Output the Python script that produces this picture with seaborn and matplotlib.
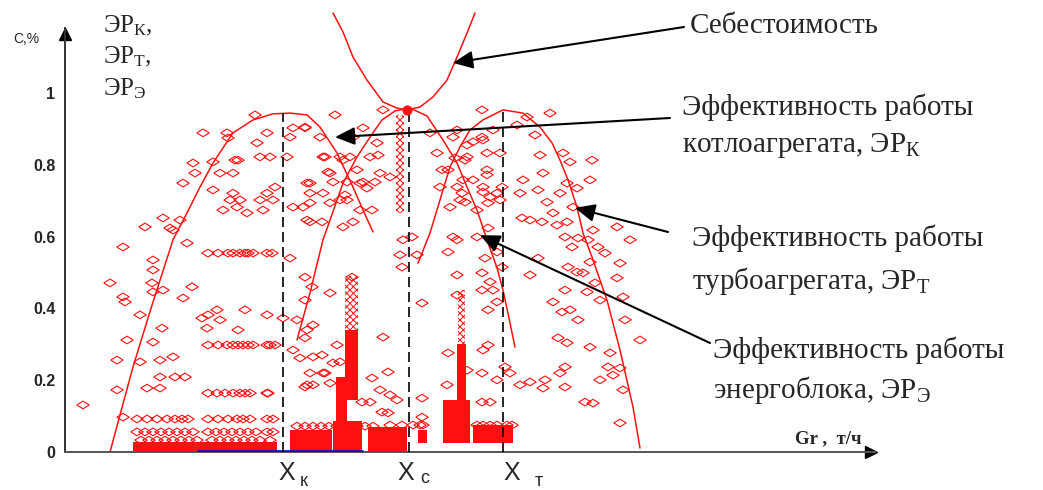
import matplotlib
matplotlib.use('Agg')
import matplotlib.pyplot as plt
from matplotlib.markers import MarkerStyle
import seaborn as sns

# Gr in t/h, efficiency / cost in relative units
erk_x = [45, 68, 87, 108, 122, 135, 148, 168, 188, 208, 225, 242, 255, 272, 288, 298, 308]
erk_y = [0, 0.237, 0.409, 0.591, 0.666, 0.738, 0.805, 0.889, 0.925, 0.942, 0.944, 0.939,
         0.905, 0.833, 0.738, 0.674, 0.613]

cost_x = [268, 278, 288, 302, 318, 332, 342, 355, 368, 382, 392, 402, 410]
cost_y = [1.223, 1.170, 1.100, 1.036, 0.975, 0.958, 0.953, 0.961, 0.989, 1.036, 1.100, 1.167, 1.223]

ere_x = [232, 245, 258, 265, 278, 292, 305, 317, 330, 345, 362, 378, 392, 402, 412, 422, 432, 438, 444, 450]
ere_y = [0.312, 0.443, 0.591, 0.646, 0.749, 0.822, 0.877, 0.925, 0.950, 0.958, 0.936, 0.869, 0.805,
         0.738, 0.674, 0.591, 0.513, 0.451, 0.373, 0.292]

ert_x = [353, 365, 375, 385, 395, 405, 418, 438, 458, 475, 487, 495, 503, 512, 518, 527, 535, 542,
         555, 568, 575]
ert_y = [0.526, 0.610, 0.702, 0.794, 0.850, 0.897, 0.925, 0.953, 0.944, 0.905, 0.861, 0.813, 0.758,
         0.682, 0.610, 0.543, 0.479, 0.423, 0.284, 0.125, 0.011]

cost_min_x = [342]
cost_min_y = [0.953]

# optimum loads X_k, X_c, X_t
opt_x = [218, 344, 438]
opt_top = [0.944, 0.953, 0.953]

# measured points, boiler zone
boiler_x = [190, 138, 162, 163, 192, 202, 228, 240, 225, 255, 270, 128, 148, 170, 173, 195, 205, 222,
            260, 278, 130, 155, 168, 265, 118, 148, 168, 175, 165, 195, 202, 210, 208, 245, 245, 258,
            268, 265, 228, 238, 158, 172, 198, 182, 245, 257, 278, 98, 115, 108, 80, 105, 58, 122, 275,
            88, 88, 225, 45, 87, 88, 58, 60, 98, 118, 127, 75, 97, 62, 88, 52, 75, 95, 108, 18, 52, 58,
            82, 95, 95, 110, 120, 137, 143, 152, 142, 155, 173, 180, 202, 218, 232]
boiler_y = [0.939, 0.889, 0.889, 0.875, 0.861, 0.889, 0.903, 0.903, 0.877, 0.877, 0.939, 0.805, 0.808,
            0.813, 0.813, 0.822, 0.822, 0.822, 0.822, 0.813, 0.777, 0.777, 0.777, 0.777, 0.749, 0.730,
            0.721, 0.702, 0.702, 0.702, 0.721, 0.738, 0.702, 0.749, 0.721, 0.721, 0.752, 0.694, 0.682,
            0.682, 0.674, 0.682, 0.674, 0.666, 0.641, 0.641, 0.627, 0.652, 0.646, 0.618, 0.627, 0.624,
            0.571, 0.582, 0.702, 0.535, 0.507, 0.540, 0.471, 0.471, 0.446, 0.432, 0.418, 0.451, 0.429,
            0.460, 0.382, 0.345, 0.312, 0.306, 0.256, 0.251, 0.256, 0.265, 0.131, 0.173, 0.097, 0.178,
            0.178, 0.209, 0.209, 0.209, 0.373, 0.382, 0.396, 0.345, 0.368, 0.340, 0.396, 0.382, 0.373,
            0.368]

# measured points, power unit zone
unit_x = [242, 248, 228, 235, 248, 257, 268, 245, 242, 248, 258, 265, 275, 272, 265, 247, 240, 240,
          318, 240, 298, 288, 312, 258, 275, 305, 242, 282, 295, 315, 325, 245, 282, 295, 307, 242,
          288, 263, 292, 298, 310, 280, 302, 313, 285, 338, 347, 335, 352, 337, 287, 318, 315, 323,
          325, 332, 357, 357, 297, 305, 317, 323, 240, 240, 260, 357, 307]
unit_y = [0.340, 0.354, 0.284, 0.262, 0.265, 0.270, 0.248, 0.220, 0.187, 0.187, 0.220, 0.192, 0.251,
          0.298, 0.443, 0.460, 0.487, 0.423, 0.953, 0.905, 0.903, 0.877, 0.861, 0.822, 0.822, 0.822,
          0.749, 0.752, 0.749, 0.777, 0.766, 0.694, 0.702, 0.674, 0.674, 0.646, 0.641, 0.780, 0.786,
          0.752, 0.752, 0.716, 0.735, 0.827, 0.822, 0.591, 0.599, 0.549, 0.549, 0.515, 0.487, 0.320,
          0.173, 0.223, 0.159, 0.145, 0.150, 0.097, 0.139, 0.139, 0.111, 0.109, 0.318, 0.181, 0.220,
          0.415, 0.206]

# measured points, turbine zone
turb_x = [365, 392, 388, 417, 428, 417, 452, 470, 485, 462, 372, 402, 422, 435, 475, 498, 527, 505,
          418, 377, 383, 390, 400, 402, 408, 375, 398, 418, 422, 437, 458, 478, 502, 525, 392, 397,
          408, 422, 418, 432, 385, 395, 400, 412, 423, 435, 425, 455, 473, 482, 495, 512, 465, 488,
          502, 552, 565, 528, 508, 457, 477, 492, 500, 513, 523, 507, 533, 540, 473, 555, 525, 503,
          518, 530, 465, 552, 500, 522, 558, 425, 420, 388, 383, 392, 412, 423, 432, 437, 392, 417,
          417, 428, 432, 423, 512, 488, 497, 505, 513, 535, 560, 575, 493, 502, 525, 545, 555, 543,
          548, 558, 535, 520, 528, 555, 423, 418, 417, 440, 445, 432, 455, 465, 480, 478, 495, 500,
          500, 417, 425, 382, 383, 392, 402]
turb_y = [0.889, 0.897, 0.877, 0.953, 0.897, 0.877, 0.911, 0.883, 0.944, 0.933, 0.833, 0.822, 0.833,
          0.833, 0.827, 0.833, 0.813, 0.808, 0.869, 0.786, 0.786, 0.819, 0.813, 0.855, 0.864, 0.738,
          0.758, 0.738, 0.786, 0.738, 0.758, 0.777, 0.749, 0.758, 0.738, 0.721, 0.758, 0.772, 0.724,
          0.721, 0.682, 0.702, 0.696, 0.674, 0.694, 0.702, 0.710, 0.721, 0.730, 0.696, 0.721, 0.735,
          0.646, 0.666, 0.641, 0.627, 0.591, 0.618, 0.682, 0.652, 0.641, 0.632, 0.599, 0.596, 0.591,
          0.571, 0.571, 0.554, 0.540, 0.526, 0.529, 0.515, 0.499, 0.471, 0.493, 0.485, 0.451, 0.446,
          0.432, 0.474, 0.540, 0.599, 0.557, 0.591, 0.599, 0.624, 0.557, 0.515, 0.493, 0.499, 0.451,
          0.451, 0.418, 0.396, 0.501, 0.418, 0.390, 0.396, 0.368, 0.423, 0.368, 0.312, 0.318, 0.304,
          0.292, 0.276, 0.234, 0.237, 0.214, 0.173, 0.201, 0.139, 0.136, 0.081, 0.298, 0.284, 0.220,
          0.237, 0.220, 0.201, 0.187, 0.195, 0.201, 0.178, 0.220, 0.237, 0.181, 0.139, 0.139, 0.187,
          0.276, 0.437, 0.228]

# repeated regimes lying on horizontal rows
row_y = [0.554, 0.298, 0.164, 0.092, 0.056, 0.033, 0.072, 0.075]
row_x = [
    [143, 153, 163, 168, 175, 180, 183, 188, 202, 207],
    [143, 153, 162, 168, 173, 178, 183, 188, 202, 205, 210],
    [143, 152, 160, 168, 175, 180, 185, 202, 203],
    [72, 82, 92, 102, 110, 117, 123, 143, 153, 163, 172, 178, 185, 202, 208],
    [72, 80, 88, 96, 104, 112, 120, 128, 143, 151, 159, 167, 175, 183, 191, 202, 208],
    [76, 84, 92, 100, 108, 116, 124, 132, 147, 155, 163, 171, 179, 187, 195, 205],
    [232, 240, 248, 256, 264, 272, 280, 292, 300, 308],
    [325, 337, 348, 355, 358, 412, 418, 425, 432, 442, 447],
]

# dense clouds of overlapping points (solid)
dense_left = [68, 225, 268, 303, 280, 271, 392, 378, 353, 408]
dense_right = [212, 267, 297, 342, 293, 282, 401, 405, 362, 448]
dense_bottom = [0, 0, 0, 0, 0.145, 0.075, 0.033, 0.025, 0.025, 0.025]
dense_top = [0.028, 0.06, 0.085, 0.07, 0.34, 0.21, 0.30, 0.145, 0.06, 0.075]

# less dense clouds (hatched look)
cloud_left = [280, 331, 393]
cloud_right = [293, 339, 400]
cloud_bottom = [0.34, 0.665, 0.30]
cloud_top = [0.49, 0.94, 0.45]

low_load_x = [132, 298]
low_load_y = [0.003, 0.003]

y_ticks = [0, 0.2, 0.4, 0.6, 0.8, 1]
y_tick_labels = ['0', '0.2', '0.4', '0.6', '0.8', '1']

sns.set_style('white')
plt.rcParams['font.family'] = ['Liberation Serif', 'DejaVu Serif']
plt.rcParams['mathtext.fontset'] = 'custom'
plt.rcParams['mathtext.rm'] = 'Liberation Serif'
plt.rcParams['mathtext.it'] = 'Liberation Serif:italic'
plt.rcParams['hatch.linewidth'] = 0.7

W, H = 1043, 490
fig = plt.figure(figsize=(W / 100, H / 100), dpi=100)
ax = fig.add_axes([65 / W, 38 / H, 810 / W, 447 / H])
ax.set_xlim(0, 810)
ax.set_ylim(0, 447 / 359)

RED = '#ff1010'
diamond = MarkerStyle([(-1, 0), (0, 0.62), (1, 0), (0, -0.62), (-1, 0)])

ax.bar(dense_left, [t - b for t, b in zip(dense_top, dense_bottom)], bottom=dense_bottom,
       width=[r - l for r, l in zip(dense_right, dense_left)], align='edge', color=RED, lw=0)
ax.bar(cloud_left, [t - b for t, b in zip(cloud_top, cloud_bottom)], bottom=cloud_bottom,
       width=[r - l for r, l in zip(cloud_right, cloud_left)], align='edge',
       facecolor='none', edgecolor=RED, hatch='xxxxx', lw=0)

scatter_kw = dict(marker=diamond, s=80, color=RED, facecolor='none', edgecolor=RED,
                  linewidth=0.8, ax=ax, legend=False)
sns.scatterplot(x=boiler_x, y=boiler_y, **scatter_kw)
sns.scatterplot(x=unit_x, y=unit_y, **scatter_kw)
sns.scatterplot(x=turb_x, y=turb_y, **scatter_kw)
for yv, xs in zip(row_y, row_x):
    sns.scatterplot(x=xs, y=[yv] * len(xs), **scatter_kw)

line_kw = dict(sort=False, estimator=None, color=RED, lw=1.1, ax=ax)
sns.lineplot(x=erk_x, y=erk_y, **line_kw)
sns.lineplot(x=ere_x, y=ere_y, **line_kw)
sns.lineplot(x=ert_x, y=ert_y, **line_kw)
sns.lineplot(x=cost_x, y=cost_y, **line_kw)
sns.scatterplot(x=cost_min_x, y=cost_min_y, s=45, color=RED, edgecolor=RED, ax=ax, zorder=5)
ax.plot(low_load_x, low_load_y, color='#1010c0', lw=2, solid_capstyle='butt', zorder=4)

ax.vlines(opt_x, 0, opt_top, colors='black', linestyles=(0, (6, 3)), lw=1.2, zorder=4)

# axes with arrows
for side in ['top', 'right']:
    ax.spines[side].set_visible(False)
ax.spines['left'].set_bounds(0, 424 / 359)
ax.spines['left'].set_color('#333333')
ax.spines['bottom'].set_color('#555555')
ax.spines['left'].set_linewidth(1.4)
ax.spines['bottom'].set_linewidth(1.4)
ax.plot([0], [418 / 359], marker='^', ms=8, color='black', clip_on=False)
ax.plot([806], [0], marker='>', ms=8, color='black', clip_on=False)

ax.set_xticks([])
ax.set_yticks(y_ticks)
ax.set_yticklabels(y_tick_labels, family='Liberation Sans', fontsize=11.5, weight='bold')
ax.tick_params(axis='y', length=0, pad=7)


def fig_text(px, py, s, **kw):
    fig.text(px / W, 1 - py / H, s, **kw)


fig_text(13, 43, 'C,%', family='Liberation Sans', fontsize=10)
fig_text(103, 32, 'ЭР$_{\\mathrm{К}}$,', fontsize=18)
fig_text(103, 63, 'ЭР$_{\\mathrm{Т}}$,', fontsize=18)
fig_text(103, 95, 'ЭР$_{\\mathrm{Э}}$', fontsize=18)
fig_text(795, 443, 'Gr ,  т/ч', fontsize=13.5, weight='bold')

for px, sub, dx, dy in [(287, 'к', 13, 6), (406, 'c', 14, 3), (512, 'т', 23, 6)]:
    fig_text(px, 480, 'X', family='Liberation Sans', fontsize=18, ha='center')
    fig_text(px + dx, 480 + dy, sub, family='Liberation Sans', fontsize=13)

label_kw = dict(fontsize=21)
fig_text(690, 33, 'Себестоимость', **label_kw)
fig_text(682, 115, 'Эффективность работы', **label_kw)
fig_text(682, 152, 'котлоагрегата, ЭР$_{\\mathrm{К}}$', **label_kw)
fig_text(692, 246, 'Эффективность работы', **label_kw)
fig_text(692, 289, 'турбоагрегата, ЭР$_{\\mathrm{Т}}$', **label_kw)
fig_text(713, 358, 'Эффективность работы', **label_kw)
fig_text(713, 398, 'энергоблока, ЭР$_{\\mathrm{Э}}$', **label_kw)

arrow_kw = dict(arrowstyle='-|>,head_length=0.6,head_width=0.27', mutation_scale=20,
                color='black', lw=1.5, shrinkA=0, shrinkB=0)
for tip, start in [((388, 1.084), (684, 463)), ((270, 0.877), (670, 372)),
                   ((510, 0.680), (668, 258)), ((415, 0.604), (710, 147))]:
    ax.annotate('', xy=tip, xycoords='data', xytext=start, textcoords='figure pixels',
                arrowprops=arrow_kw, annotation_clip=False)

fig.savefig('out.png', dpi=100)
